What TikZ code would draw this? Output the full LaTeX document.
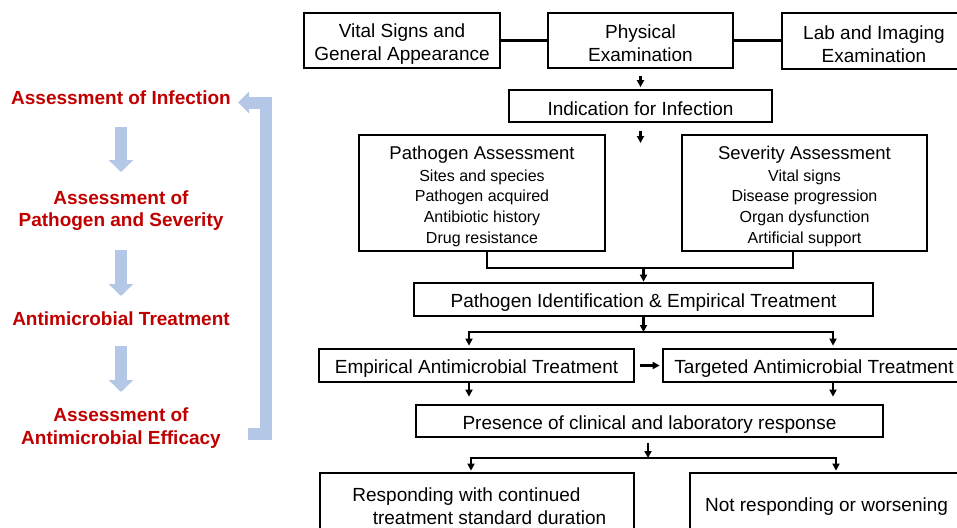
\documentclass[tikz,border=0pt]{standalone}
\usepackage{fontspec}
\setmainfont{Liberation Sans}
\usetikzlibrary{arrows.meta}
\definecolor{redc}{HTML}{C00000}
\definecolor{bluec}{HTML}{B4C7E7}
\newcommand\topgap{\rule{0pt}{20pt}}
\begin{document}
\begin{tikzpicture}[x=1pt,y=-1pt,
  box/.style={draw, line width=2.7pt, inner sep=0pt, align=center, font=\fontsize{19}{23}\selectfont},
  subbox/.style={draw, line width=2.7pt, inner sep=0pt, align=center, font=\fontsize{16}{20.7}\selectfont},
  stage/.style={font=\bfseries\fontsize{19}{22.5}\selectfont, text=redc, align=center, inner sep=0pt},
  conn/.style={line width=2.1pt},
  arr/.style={conn, -{Triangle[length=7pt,width=7pt]}},
  blk/.style={line width=12pt, draw=bluec, -{Triangle[length=12pt,width=24pt]}},
  bracketarrow/.style={line width=12pt, draw=bluec, line join=miter, -{Triangle[length=11pt,width=21pt]}}
]
\useasboundingbox (0,0) rectangle (957,527);
\clip (0,0) rectangle (957,527);

% left stages
\node[stage] (t1) at (121,98) {Assessment of Infection};
\node[stage] (t2) at (121,210.5) {Assessment of\\Pathogen and Severity};
\node[stage] (t3) at (121,319) {Antimicrobial Treatment};
\node[stage] (t4) at (121,428) {Assessment of\\Antimicrobial Efficacy};

\draw[blk] ([yshift=-29pt]t1.center) -- ([yshift=38.5pt]t2.center);
\draw[blk] ([yshift=-39.5pt]t2.center) -- ([yshift=23pt]t3.center);
\draw[blk] ([yshift=-27pt]t3.center) -- ([yshift=36pt]t4.center);

\coordinate (br1) at (248,434);
\coordinate (br2) at (238,102.5);
\draw[bracketarrow] (br1) -- ++(18,0) |- (br2);

% boxes
\node[box, minimum width=196pt, minimum height=55pt] (vs) at (402,40.5) {\topgap Vital Signs and\\General Appearance};
\node[box, minimum width=185pt, minimum height=55pt] (pe) at (640.5,40.5) {\topgap Physical\\Examination};
\node[box, minimum width=184pt, minimum height=56pt] (lab) at (874,41) {\topgap Lab and Imaging\\Examination};
\node[box, minimum width=263pt, minimum height=32pt] (ind) at (640.5,106) {\topgap Indication for Infection};
\node[subbox, minimum width=246pt, minimum height=116pt] (pa) at (482,193)
  {{\fontsize{18.5}{22}\selectfont\topgap Pathogen Assessment}\\[1.3pt]Sites and species\\Pathogen acquired\\Antibiotic history\\Drug resistance};
\node[subbox, minimum width=245pt, minimum height=116pt] (sa) at (804.5,193)
  {{\fontsize{18.5}{22}\selectfont\topgap Severity Assessment}\\[1.3pt]Vital signs\\Disease progression\\Organ dysfunction\\Artificial support};
\node[box, minimum width=459pt, minimum height=33pt] (pi) at (643.5,299.5) {\topgap Pathogen Identification \& Empirical Treatment};
\node[box, minimum width=315pt, minimum height=33pt] (emp) at (476.5,365.5) {\topgap Empirical Antimicrobial Treatment};
\node[box, minimum width=302pt, minimum height=33pt] (tar) at (814,365.5) {\topgap Targeted Antimicrobial Treatment};
\node[box, minimum width=467pt, minimum height=32pt] (pres) at (649.5,421) {\topgap Presence of clinical and laboratory response};
\node[box, minimum width=314pt, minimum height=61pt] (resp) at (477,503.5) {\topgap Responding with continued\hspace*{21pt}\\\hspace*{25pt}treatment standard duration};
\node[box, minimum width=273pt, minimum height=61pt] (notr) at (826.5,503.5) {\topgap Not responding or worsening};

% connectors
\draw[conn] (vs.east) -- (vs.east -| pe.west);
\draw[conn] (pe.east) -- (pe.east -| lab.west);
\draw[arr, shorten <=7pt, shorten >=1.5pt] (pe.south) -- (ind.north);
\coordinate (d1) at (640.5,143);
\draw[arr, shorten <=8pt] (ind.south) -- (d1);

\coordinate (j1) at (643.5,268);
\draw[conn] ([xshift=5pt]pa.south) |- (j1) -| ([xshift=-11.5pt]sa.south);
\draw[arr] (j1) -- (pi.north);

\coordinate (j2) at (643.5,332);
\draw[arr] (pi.south) -- (j2);
\draw[arr, shorten >=2pt] (j2) -| ([xshift=-7.5pt]emp.north);
\draw[arr, shorten >=2pt] (j2) -| ([xshift=19pt]tar.north);
\draw[arr, shorten <=5pt, shorten >=2pt] (emp.east) -- (tar.west);
\draw[arr, shorten >=7pt] ([xshift=-7.5pt]emp.south) -- ([xshift=-7.5pt]emp.south |- pres.north);
\draw[arr, shorten >=7pt] ([xshift=19pt]tar.south) -- ([xshift=19pt]tar.south |- pres.north);

\coordinate (j3) at (648,458);
\draw[arr, shorten <=5pt] (pres.south -| j3) -- (j3);
\draw[arr, shorten >=1pt] (j3) -| ([xshift=-6pt]resp.north);
\draw[arr, shorten >=1pt] (j3) -| ([xshift=9.5pt]notr.north);
\end{tikzpicture}
\end{document}
